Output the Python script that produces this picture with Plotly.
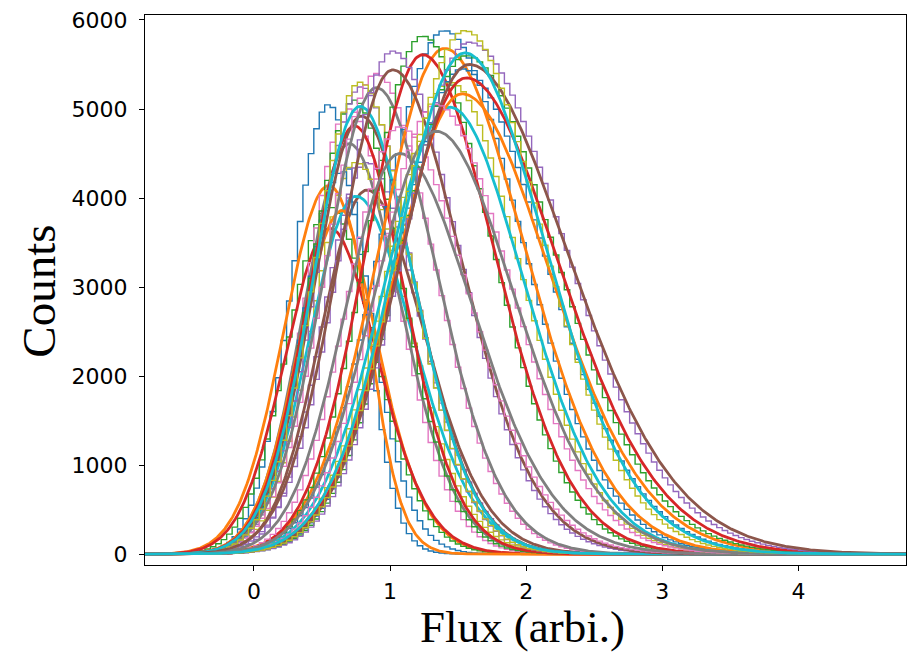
import numpy as np
import plotly.graph_objects as go

# ---- data (per fitted component) ----
# fitted-curve peak position, peak height, left width, right width
fit_center = [0.55, 0.56, 0.83, 0.70, 0.75,
              0.65, 0.74, 0.79, 0.90, 0.78,
              1.40, 1.24, 1.02, 1.07, 1.44,
              1.53, 1.56, 1.58, 1.34, 1.55]
fit_peak = [4140, 3660, 4090, 4610, 4020,
            3860, 4810, 4920, 5240, 5030,
            5680, 5610, 5440, 4500, 5020,
            5170, 5350, 5500, 4750, 5630]
fit_left_width = [0.33, 0.33, 0.34, 0.33, 0.34,
                  0.32, 0.34, 0.35, 0.38, 0.35,
                  0.48, 0.42, 0.40, 0.40, 0.48,
                  0.50, 0.50, 0.50, 0.46, 0.50]
fit_right_width = [0.32, 0.33, 0.40, 0.36, 0.40,
                   0.20, 0.35, 0.38, 0.42, 0.38,
                   0.56, 0.50, 0.48, 0.52, 0.52,
                   0.62, 0.65, 0.70, 0.55, 0.57]
# histogram peak heights (histograms peak above their fits)
hist_peak = [5050, 3900, 4400, 5000, 4400,
             4300, 5100, 5250, 5400, 5300,
             5880, 5820, 5650, 4800, 5300,
             5450, 5600, 5750, 5050, 5880]

x_tick_vals = [0, 1, 2, 3, 4]
y_tick_vals = [0, 1000, 2000, 3000, 4000, 5000, 6000]

tab10 = ["#1f77b4", "#ff7f0e", "#2ca02c", "#d62728", "#9467bd",
         "#8c564b", "#e377c2", "#7f7f7f", "#bcbd22", "#17becf"]

TAIL = 0.1


def model(x, mu, amp, sl, sr):
    zl = (x - mu) / sl
    zr = (x - mu) / sr
    left = np.exp(-0.5 * zl * zl)
    right = np.exp(-0.5 * zr * zr / (1 + TAIL * np.abs(zr)))
    return amp * np.where(x < mu, left, right)


x_fit = np.linspace(-0.85, 4.85, 600)
edges = np.arange(-0.84, 4.86, 0.04)
centers = 0.5 * (edges[:-1] + edges[1:])

fig = go.Figure()
for i in range(len(fit_center)):
    mu, A = fit_center[i], fit_peak[i]
    sl, sr = fit_left_width[i], fit_right_width[i]
    Ah = hist_peak[i]
    k = A / Ah
    counts = model(centers, mu, Ah, sl * k, sr * k)
    hx = np.concatenate([[edges[0]], edges[:-1], [edges[-1]], [edges[-1]]])
    hy = np.concatenate([[0], counts, [counts[-1]], [0]])
    hist_col = tab10[(2 * i) % 10]
    fit_col = tab10[(2 * i + 1) % 10]
    fig.add_trace(go.Scatter(x=hx, y=hy, mode="lines",
                             line=dict(color=hist_col, width=1.4, shape="hv"),
                             showlegend=False, hoverinfo="skip"))
    fig.add_trace(go.Scatter(x=x_fit, y=model(x_fit, mu, A, sl, sr), mode="lines",
                             line=dict(color=fit_col, width=2.8),
                             showlegend=False, hoverinfo="skip"))

fig.update_layout(
    width=915, height=656,
    margin=dict(l=145, r=8, t=10, b=91),
    paper_bgcolor="white", plot_bgcolor="white",
    font=dict(family="DejaVu Sans", size=22, color="black"),
    xaxis=dict(range=[-0.8, 4.79], tickvals=x_tick_vals, ticks="outside",
               ticklen=5, tickwidth=1.2, tickcolor="black",
               showgrid=False, zeroline=False, showline=True, linecolor="black",
               linewidth=1.3, mirror=True, ticklabelstandoff=1,
               tickfont=dict(family="DejaVu Sans", size=22)),
    yaxis=dict(range=[-122, 6056], tickvals=y_tick_vals, ticks="outside",
               ticklen=5, tickwidth=1.2, tickcolor="black",
               showgrid=False, zeroline=False, showline=True, linecolor="black",
               linewidth=1.3, mirror=True, ticklabelstandoff=7,
               tickfont=dict(family="DejaVu Sans", size=22)),
    annotations=[
        dict(text="Counts", xref="paper", yref="paper",
             x=(39 - 145) / 762, y=(565 - 289) / 555, textangle=-90,
             showarrow=False, xanchor="center", yanchor="middle",
             font=dict(family="Liberation Serif", size=47, color="black")),
        dict(text="Flux (arbi.)", xref="paper", yref="paper",
             x=(523 - 145) / 762, y=(565 - 628) / 555,
             showarrow=False, xanchor="center", yanchor="middle",
             font=dict(family="Liberation Serif", size=45, color="black")),
    ],
)

fig.write_html("out.html",
               config={"displayModeBar": False},
               post_script="document.body.style.margin='0px';")
